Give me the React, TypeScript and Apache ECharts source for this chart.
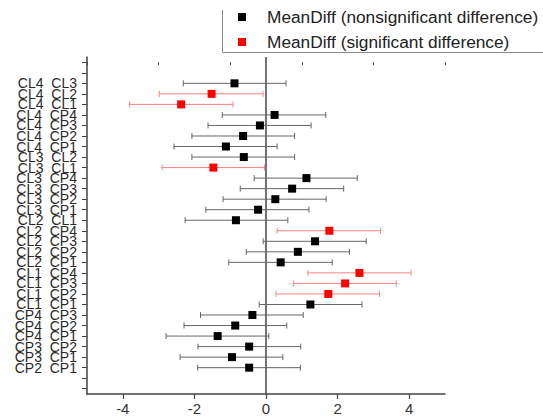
import React, { useEffect, useRef } from "react";
import * as echarts from "echarts";

const pairs = [
  "CL4  CL3", "CL4  CL2", "CL4  CL1", "CL4  CP4", "CL4  CP3", "CL4  CP2", "CL4  CP1",
  "CL3  CL2", "CL3  CL1", "CL3  CP4", "CL3  CP3", "CL3  CP2", "CL3  CP1",
  "CL2  CL1", "CL2  CP4", "CL2  CP3", "CL2  CP2", "CL2  CP1",
  "CL1  CP4", "CL1  CP3", "CL1  CP2", "CL1  CP1",
  "CP4  CP3", "CP4  CP2", "CP4  CP1",
  "CP3  CP2", "CP3  CP1",
  "CP2  CP1",
];
const meanDiff = [
  -0.88, -1.52, -2.37, 0.24, -0.17, -0.64, -1.12,
  -0.62, -1.47, 1.13, 0.73, 0.26, -0.22,
  -0.84, 1.77, 1.37, 0.89, 0.41,
  2.61, 2.21, 1.74, 1.24,
  -0.38, -0.86, -1.35,
  -0.47, -0.95,
  -0.47,
];
const lowerCI = [
  -2.31, -2.98, -3.81, -1.22, -1.62, -2.07, -2.57,
  -2.07, -2.9, -0.33, -0.72, -1.2, -1.68,
  -2.26, 0.31, -0.08, -0.55, -1.04,
  1.17, 0.77, 0.28, -0.19,
  -1.83, -2.29, -2.79,
  -1.9, -2.4,
  -1.91,
];
const upperCI = [
  0.56, -0.08, -0.92, 1.67, 1.26, 0.8, 0.31,
  0.8, -0.04, 2.55, 2.17, 1.68, 1.2,
  0.61, 3.2, 2.8, 2.33, 1.85,
  4.05, 3.64, 3.17, 2.68,
  1.04, 0.58, 0.08,
  0.97, 0.47,
  0.96,
];
const significant = [
  0, 1, 1, 0, 0, 0, 0,
  0, 1, 0, 0, 0, 0,
  0, 1, 0, 0, 0,
  1, 1, 1, 0,
  0, 0, 0,
  0, 0,
  0,
];
const xMajorTicks = [-4, -2, 0, 2, 4];
const xMinorTicks = [-5, -3, -1, 1, 3, 5];
const seriesNames = [
  "MeanDiff (nonsignificant difference)",
  "MeanDiff (significant difference)",
];

// two empty tick rows above and below the comparisons
const PAD = 2;
const rowCount = pairs.length + 2 * PAD;
const rowTicks = Array.from({ length: rowCount }, (_, i) => i);
const labelRowsEven = pairs.map((_, i) => i + PAD).filter((r) => r % 2 === 0);
const labelRowsOdd = pairs.map((_, i) => i + PAD).filter((r) => r % 2 === 1);

const FONT = "Liberation Sans, Arial, sans-serif";

function errorBarRenderer(color: string) {
  return (params: any, api: any) => {
    const row = api.value(2);
    const lo = api.coord([api.value(0), row]);
    const hi = api.coord([api.value(1), row]);
    const cap = 3;
    const style = { stroke: color, lineWidth: 1, fill: "none" };
    return {
      type: "group",
      children: [
        { type: "line", shape: { x1: lo[0], y1: lo[1], x2: hi[0], y2: hi[1] }, style },
        { type: "line", shape: { x1: lo[0], y1: lo[1] - cap, x2: lo[0], y2: lo[1] + cap }, style },
        { type: "line", shape: { x1: hi[0], y1: hi[1] - cap, x2: hi[0], y2: hi[1] + cap }, style },
      ],
    };
  };
}

export default function App() {
  const ref = useRef<HTMLDivElement>(null);
  useEffect(() => {
    if (!ref.current) return;
    const chart = echarts.init(ref.current, null, { renderer: "svg" });

    const barData = (sig: number) =>
      pairs
        .map((_, i) => (significant[i] === sig ? [lowerCI[i], upperCI[i], i + PAD] : null))
        .filter((d) => d !== null);
    const pointData = (sig: number) =>
      pairs
        .map((_, i) => (significant[i] === sig ? [meanDiff[i], i + PAD] : null))
        .filter((d) => d !== null);

    const labelStyle = (rows: number[]) => ({
      customValues: rows,
      showMinLabel: true,
      showMaxLabel: true,
      hideOverlap: false,
      formatter: (v: number) => pairs[Math.round(v) - PAD] ?? "",
      fontSize: 14,
      color: "#2a2a2a",
      margin: 10,
      fontFamily: FONT,
    });

    chart.setOption({
      animation: false,
      backgroundColor: "#ffffff",
      textStyle: { fontFamily: FONT },
      grid: { left: 87, right: 98, top: 57, bottom: 26, containLabel: false },
      legend: {
        data: seriesNames,
        orient: "vertical",
        left: 238,
        top: 7,
        padding: 0,
        icon: "rect",
        itemWidth: 8,
        itemHeight: 8,
        itemGap: 5,
        itemStyle: { opacity: 1 },
        textStyle: {
          fontFamily: FONT,
          fontSize: 17.3,
          lineHeight: 20,
          color: "#222",
          padding: [0, 0, 0, 16],
        },
      },
      graphic: [
        {
          type: "polyline",
          shape: { points: [[222.5, 10], [222.5, 52.5], [543, 52.5]] },
          style: { stroke: "#888", lineWidth: 1, fill: "none" },
          silent: true,
        },
        {
          type: "line",
          shape: { x1: 266, y1: 57, x2: 266, y2: 394 },
          style: { stroke: "#444", lineWidth: 1.5 },
          silent: true,
          z: 0,
        },
      ],
      xAxis: [
        {
          type: "value",
          min: -5,
          max: 5,
          position: "bottom",
          splitLine: { show: false },
          axisLine: { show: true, onZero: false, lineStyle: { color: "#444", width: 1.5 } },
          axisTick: { show: true, customValues: xMajorTicks, length: 5, lineStyle: { color: "#444", width: 1.2 } },
          axisLabel: { customValues: xMajorTicks, fontSize: 15, color: "#333", margin: 7, fontFamily: FONT },
        },
        {
          type: "value",
          min: -5,
          max: 5,
          position: "bottom",
          splitLine: { show: false },
          axisLine: { show: false },
          axisTick: { show: true, customValues: xMinorTicks, length: 3, lineStyle: { color: "#444", width: 1 } },
          axisLabel: { show: false },
        },
      ],
      yAxis: [
        {
          type: "value",
          min: -0.5,
          max: rowCount - 0.5,
          inverse: true,
          position: "left",
          splitLine: { show: false },
          axisLine: { show: true, onZero: false, lineStyle: { color: "#444", width: 1.5 } },
          axisTick: { show: true, customValues: rowTicks, length: 5, lineStyle: { color: "#444", width: 1 } },
          axisLabel: labelStyle(labelRowsEven),
        },
        {
          type: "value",
          min: -0.5,
          max: rowCount - 0.5,
          inverse: true,
          position: "left",
          offset: 0,
          splitLine: { show: false },
          axisLine: { show: false },
          axisTick: { show: false },
          axisLabel: labelStyle(labelRowsOdd),
        },
      ],
      series: [
        {
          type: "custom",
          name: "nonsigBars",
          renderItem: errorBarRenderer("#666666"),
          encode: { x: [0, 1], y: 2 },
          data: barData(0),
          z: 1,
          silent: true,
        },
        {
          type: "custom",
          name: "sigBars",
          renderItem: errorBarRenderer("#ff8080"),
          encode: { x: [0, 1], y: 2 },
          data: barData(1),
          z: 1,
          silent: true,
        },
        {
          type: "scatter",
          name: seriesNames[0],
          symbol: "rect",
          symbolSize: 8,
          itemStyle: { color: "#000000", opacity: 1 },
          data: pointData(0),
          z: 3,
        },
        {
          type: "scatter",
          name: seriesNames[1],
          symbol: "rect",
          symbolSize: 8,
          itemStyle: { color: "#ff0000", opacity: 1 },
          data: pointData(1),
          z: 3,
        },
      ],
    });
    return () => chart.dispose();
  }, []);

  return (
    <div
      ref={ref}
      style={{ position: "fixed", left: 0, top: 0, width: 543, height: 420, background: "#fff" }}
    />
  );
}
